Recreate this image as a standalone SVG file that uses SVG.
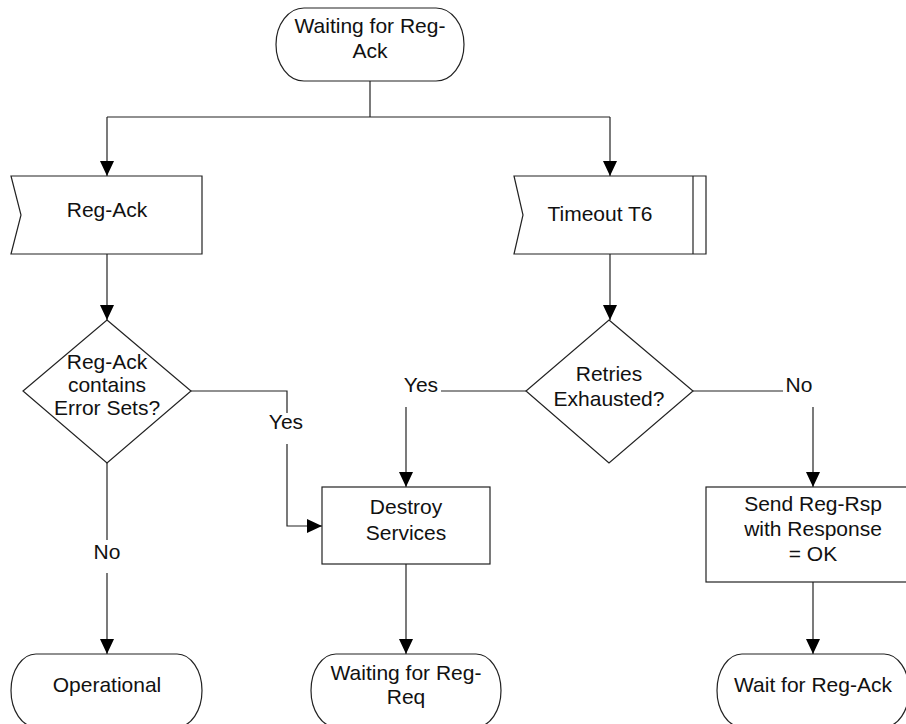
<svg xmlns="http://www.w3.org/2000/svg" width="906" height="724" viewBox="0 0 906 724">
<defs>
<marker id="arr" markerUnits="userSpaceOnUse" markerWidth="15" markerHeight="14" refX="15" refY="7" orient="auto">
<path d="M0,0 L15,7 L0,14 z" fill="#000"/>
</marker>
<style>
.s{fill:#fff;stroke:#222;stroke-width:1.2}
.c{fill:none;stroke:#222;stroke-width:1.2}
.a{marker-end:url(#arr)}
text{font-family:"Liberation Sans",Arial,sans-serif;font-size:21px;fill:#111;text-anchor:middle}
</style>
</defs>
<rect width="906" height="724" fill="#fff"/>
<g id="connectors">
<path class="c" d="M370,81 V117"/>
<path class="c" d="M107,117 H610"/>
<path class="c a" d="M107,117 V176"/>
<path class="c a" d="M610,117 V176"/>
<path class="c a" d="M107,254 V320"/>
<path class="c a" d="M610,254 V320"/>
<path class="c" d="M107,463 V540"/>
<path class="c a" d="M107,573 V654"/>
<path class="c" d="M191,391 H287 V413"/>
<path class="c a" d="M287,444 V526 H322"/>
<path class="c" d="M526,391 H441"/>
<path class="c a" d="M406,407 V487"/>
<path class="c" d="M693,391 H783"/>
<path class="c a" d="M813,407 V487"/>
<path class="c a" d="M406,564 V654"/>
<path class="c a" d="M813,582 V654"/>
<text x="107" y="559">No</text>
<text x="286" y="429">Yes</text>
<text x="421" y="392">Yes</text>
<text x="799" y="392">No</text>
</g>
<g id="start">
<rect class="s" x="276" y="8" width="188" height="73" rx="28" ry="36.5"/>
<text x="370" y="33">Waiting for Reg-</text>
<text x="370" y="58">Ack</text>
</g>
<g id="regack">
<polygon class="s" points="11,176 202,176 202,254 11,254 21,215"/>
<text x="107" y="217">Reg-Ack</text>
</g>
<g id="timeout">
<polygon class="s" points="514,176 706,176 706,254 514,254 523,215"/>
<path class="c" d="M693,176 V254" stroke="#444"/>
<text x="600" y="221">Timeout T6</text>
</g>
<g id="dec1">
<polygon class="s" points="107,320 191,391 107,463 23,391"/>
<text x="107" y="369">Reg-Ack</text>
<text x="107" y="392">contains</text>
<text x="107" y="415">Error Sets?</text>
</g>
<g id="dec2">
<polygon class="s" points="609,320 693,391 609,463 526,391"/>
<text x="609" y="381">Retries</text>
<text x="609" y="406">Exhausted?</text>
</g>
<g id="destroy">
<rect class="s" x="322" y="487" width="168" height="77"/>
<text x="406" y="514">Destroy</text>
<text x="406" y="540">Services</text>
</g>
<g id="sendrsp">
<rect class="s" x="706" y="487" width="214" height="95"/>
<text x="813" y="511">Send Reg-Rsp</text>
<text x="813" y="536">with Response</text>
<text x="813" y="561">= OK</text>
</g>
<g id="operational">
<rect class="s" x="11" y="654" width="191" height="73" rx="25" ry="36.5"/>
<text x="107" y="692">Operational</text>
</g>
<g id="waitreq">
<rect class="s" x="311" y="654" width="190" height="73" rx="25" ry="36.5"/>
<text x="406" y="680">Waiting for Reg-</text>
<text x="406" y="704">Req</text>
</g>
<g id="waitack">
<rect class="s" x="717" y="654" width="192" height="73" rx="25" ry="36.5"/>
<text x="813" y="692">Wait for Reg-Ack</text>
</g>
</svg>
